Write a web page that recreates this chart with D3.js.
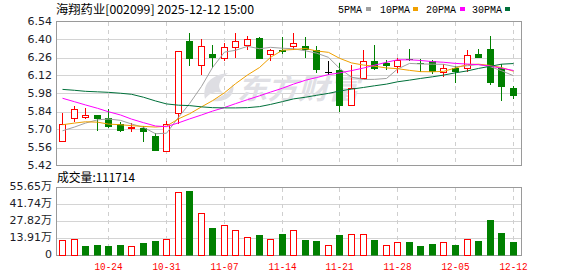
<!DOCTYPE html>
<html><head><meta charset="utf-8">
<script src="https://cdn.jsdelivr.net/npm/d3@7"></script>
<style>body{margin:0;background:#fff}svg{display:block}</style>
</head><body><svg id="c" width="578" height="276"></svg>
<script>
const dates=["10-20","10-21","10-22","10-23","10-24","10-27","10-28","10-29","10-30","10-31",
"11-03","11-04","11-05","11-06","11-07","11-10","11-11","11-12","11-13","11-14",
"11-17","11-18","11-19","11-20","11-21","11-24","11-25","11-26","11-27","11-28",
"12-01","12-02","12-03","12-04","12-05","12-08","12-09","12-10","12-11","12-12"];
const open =[5.61,5.79,5.80,5.81,5.79,5.74,5.71,5.71,5.65,5.53, 5.83,6.39,6.20,6.29,6.26,6.34,6.36,6.41,6.29,6.32, 6.35,6.35,6.32,6.15,6.16,5.89,6.10,6.23,6.22,6.19, 6.25,6.22,6.23,6.15,6.18,6.18,6.29,6.33,6.18,6.02];
const high =[5.83,5.88,5.87,5.81,5.86,5.76,5.75,5.73,5.67,5.77, 6.31,6.45,6.40,6.36,6.37,6.45,6.43,6.42,6.33,6.42, 6.45,6.42,6.35,6.23,6.22,6.20,6.32,6.36,6.24,6.26, 6.33,6.25,6.24,6.21,6.19,6.32,6.33,6.43,6.21,6.04];
const low  =[5.60,5.76,5.78,5.69,5.71,5.68,5.68,5.60,5.53,5.53, 5.74,6.19,6.12,6.18,6.23,6.26,6.32,6.25,6.23,6.29, 6.32,6.26,6.14,6.12,5.84,5.89,6.10,6.16,6.16,6.14, 6.23,6.15,6.13,6.11,6.06,6.15,6.26,6.05,5.92,5.94];
const close=[5.74,5.86,5.81,5.78,5.72,5.69,5.72,5.68,5.53,5.74, 6.31,6.25,6.35,6.26,6.34,6.39,6.40,6.25,6.32,6.30, 6.37,6.32,6.16,6.15,5.88,6.02,6.23,6.17,6.19,6.24, 6.24,6.21,6.15,6.18,6.15,6.28,6.26,6.06,6.03,5.96];
const volume=[122800,136700,81800,90000,81800,90000,79400,100700,114600,136700,
521000,523800,349500,229000,251000,210000,153000,163700,136700,171900,
210000,122800,114600,87600,163700,171900,171900,122800,87600,106400,
106400,81800,98200,106400,90000,136700,114600,294600,182500,111714];
const volUp=[1,1,0,0,0,0,1,0,0,1, 1,0,1,0,1,1,1,0,1,0, 1,0,0,1,0,1,1,0,1,1, 0,0,0,1,0,1,0,0,0,0];
const ma5=[5.690,5.719,5.750,5.775,5.782,5.771,5.743,5.717,5.667,5.671,5.795,5.901,6.035,6.182,6.302,6.316,6.347,6.328,6.339,6.332,6.328,6.312,6.294,6.261,6.176,6.107,6.089,6.090,6.097,6.170,6.214,6.210,6.208,6.207,6.188,6.196,6.206,6.188,6.157,6.118];
const ma10=[5.737,5.750,5.760,5.757,5.742,5.737,5.730,5.724,5.719,5.726,5.783,5.822,5.876,5.924,5.986,6.056,6.124,6.182,6.261,6.317,6.322,6.330,6.311,6.300,6.254,6.218,6.201,6.192,6.179,6.173,6.160,6.150,6.149,6.152,6.179,6.205,6.208,6.198,6.182,6.153];
const ma20=[5.943,5.916,5.891,5.865,5.838,5.813,5.781,5.753,5.727,5.722,5.752,5.782,5.813,5.843,5.871,5.901,5.932,5.962,5.991,6.021,6.053,6.083,6.104,6.127,6.140,6.158,6.178,6.200,6.223,6.242,6.242,6.237,6.228,6.223,6.214,6.209,6.204,6.193,6.177,6.159];
const ma30=[6.012,6.005,5.997,5.993,5.989,5.982,5.974,5.951,5.922,5.899,5.889,5.886,5.876,5.870,5.868,5.868,5.870,5.878,5.895,5.917,5.938,5.951,5.966,5.981,5.999,6.014,6.027,6.040,6.053,6.071,6.084,6.097,6.110,6.123,6.141,6.156,6.175,6.192,6.208,6.213];
const priceTicks=[6.54,6.40,6.26,6.12,5.98,5.84,5.70,5.56,5.42];
const volTicks=[0,139125,278250,417375,556500];
const volTickLabels=["0","13.91万","27.82万","41.74万","55.65万"];
const xTickLabels=["10-24","10-31","11-07","11-14","11-21","11-28","12-05","12-12"];
const title="海翔药业[002099] 2025-12-12 15:00";
const volTitle="成交量:111714";
const maNames=["5PMA","10PMA","20PMA","30PMA"];
const maColors=["#a0a0a0","#f0a000","#ff00ff","#00703a"];
const RED="#ff0000", GREEN="#008000";

const svg=d3.select("#c");
svg.append("rect").attr("width",578).attr("height",276).attr("fill","#fff");

const x=d3.scaleBand().domain(dates).range([56.3,518.5]);
const cx=d=>Math.round(x(d)+x.bandwidth()/2);
const y=d3.scaleLinear().domain([5.42,6.54]).range([165.5,21.5]);
const yv=d3.scaleLinear().domain([0,556500]).range([255.5,187.5]);
const L=56.5,R=521.5;

// horizontal grid
svg.append("g").selectAll("line").data(priceTicks.slice(1,-1)).join("line")
  .attr("x1",L).attr("x2",R).attr("y1",d=>Math.round(y(d))+0.5).attr("y2",d=>Math.round(y(d))+0.5)
  .attr("stroke","#d4d4d4");
svg.append("g").selectAll("line").data(volTicks.slice(1,-1)).join("line")
  .attr("x1",L).attr("x2",R).attr("y1",d=>Math.floor(yv(d))+0.5).attr("y2",d=>Math.floor(yv(d))+0.5)
  .attr("stroke","#d4d4d4");
// vertical dashed
const vg=svg.append("g");
xTickLabels.forEach(t=>{
  const xx=cx(t)+0.5;
  [[22,165],[188,255]].forEach(([a,b])=>vg.append("line").attr("x1",xx).attr("x2",xx).attr("y1",a).attr("y2",b)
    .attr("stroke","#cfcfcf").attr("stroke-dasharray","4,4"));
});

// watermark
const wm=svg.append("g");
wm.append("path").attr("d","M205,99 C202,84 211,75 228,73 C219,80 216,87 223,93 C214,91 209,94 205,99 Z M211,101 C220,97 229,94 233,84 C236,96 225,103 211,101 Z").attr("fill","#dedee3");
wm.append("text").attr("x",237).attr("y",99).attr("font-size",28).attr("font-weight","bold")
  .attr("font-family","Noto Sans CJK SC").attr("font-style","italic").attr("fill","#e0e0e5")
  .attr("textLength",122).attr("lengthAdjust","spacingAndGlyphs").text("东方财富");

// borders
svg.append("rect").attr("x",L).attr("y",21.5).attr("width",R-L).attr("height",144).attr("fill","none").attr("stroke","#9a9a9a");
svg.append("rect").attr("x",L).attr("y",187.5).attr("width",R-L).attr("height",68).attr("fill","none").attr("stroke","#9a9a9a");

// candles
const cg=svg.append("g");
dates.forEach((d,i)=>{
  const c=cx(d), o=open[i], cl=close[i];
  const yo=Math.round(y(o)), yc=Math.round(y(cl)), yh=Math.round(y(high[i])), yl=Math.round(y(low[i]));
  if(cl>o){
    cg.append("line").attr("x1",c+0.5).attr("x2",c+0.5).attr("y1",yh).attr("y2",yc).attr("stroke",RED);
    cg.append("line").attr("x1",c+0.5).attr("x2",c+0.5).attr("y1",yo).attr("y2",yl).attr("stroke",RED);
    cg.append("rect").attr("x",c-2.5).attr("y",yc+0.5).attr("width",6).attr("height",Math.max(1,yo-yc)).attr("fill","#fff").attr("stroke",RED);
  } else if(cl<o){
    cg.append("line").attr("x1",c+0.5).attr("x2",c+0.5).attr("y1",yh).attr("y2",yl).attr("stroke",GREEN);
    cg.append("rect").attr("x",c-3).attr("y",yo).attr("width",7).attr("height",Math.max(1,yc-yo)).attr("fill",GREEN);
  } else {
    cg.append("line").attr("x1",c+0.5).attr("x2",c+0.5).attr("y1",yh).attr("y2",yl).attr("stroke","#000");
    cg.append("line").attr("x1",c-3).attr("x2",c+4).attr("y1",yo+0.5).attr("y2",yo+0.5).attr("stroke","#000");
  }
});

// MA lines
svg.append("clipPath").attr("id","cp").append("rect").attr("x",57).attr("y",22).attr("width",464).attr("height",143);
const mg=svg.append("g").attr("clip-path","url(#cp)");
[ma5,ma10,ma20,ma30].forEach((arr,k)=>{
  mg.append("path").datum(arr).attr("fill","none").attr("stroke",maColors[k]).attr("stroke-width",1)
    .attr("d",d3.line().x((v,i)=>cx(dates[i])+0.5).y(v=>y(v)));
});

// volume bars
const bg=svg.append("g");
dates.forEach((d,i)=>{
  const c=cx(d), top=Math.round(yv(volume[i]));
  if(volUp[i]) bg.append("rect").attr("x",c-2.5).attr("y",top+0.5).attr("width",6).attr("height",255-top).attr("fill","#fff").attr("stroke",RED);
  else bg.append("rect").attr("x",c-3).attr("y",top).attr("width",7).attr("height",255.5-top).attr("fill",GREEN);
});

// axis labels
const FONT="'DejaVu Sans','Noto Sans CJK SC',sans-serif";
svg.append("g").selectAll("text").data(priceTicks).join("text")
  .attr("x",52).attr("y",d=>y(d)).attr("dy","0.36em").attr("text-anchor","end")
  .attr("font-family",FONT).attr("font-size",11).attr("fill","#1c1c28").text(d=>d.toFixed(2));
svg.append("g").selectAll("text").data(volTicks).join("text")
  .attr("x",52).attr("y",d=>yv(d)-1.5).attr("dy","0.36em").attr("text-anchor","end")
  .attr("font-family",FONT).attr("font-size",11).attr("fill","#1c1c28").text((d,i)=>volTickLabels[i]);
svg.append("g").selectAll("text").data(xTickLabels).join("text")
  .attr("x",d=>cx(d)+0.5).attr("y",270).attr("text-anchor","middle")
  .attr("font-family","'Liberation Mono',monospace").attr("font-size",11).attr("fill",RED)
  .attr("textLength",28).attr("lengthAdjust","spacingAndGlyphs").text(d=>d);

// title
svg.append("text").attr("x",56).attr("y",13.5).attr("font-family","'Noto Sans CJK SC',sans-serif").attr("font-size",12)
  .attr("fill","#000").attr("textLength",198).attr("lengthAdjust","spacingAndGlyphs").text(title);
svg.append("text").attr("x",57).attr("y",181.5).attr("font-family","'Noto Sans CJK SC',sans-serif").attr("font-size",12)
  .attr("fill","#000").attr("textLength",78).attr("lengthAdjust","spacingAndGlyphs").text(volTitle);

// legend
const legX=[338,380,426,472], sqX=[366,413,460,505];
maNames.forEach((n,k)=>{
  svg.append("text").attr("x",legX[k]).attr("y",13).attr("font-family","'Liberation Mono',monospace").attr("font-size",11)
    .attr("fill","#000").attr("textLength",n.length*6).attr("lengthAdjust","spacingAndGlyphs").text(n);
  svg.append("rect").attr("x",sqX[k]).attr("y",7).attr("width",5).attr("height",4).attr("fill",maColors[k]);
});
</script></body></html>
